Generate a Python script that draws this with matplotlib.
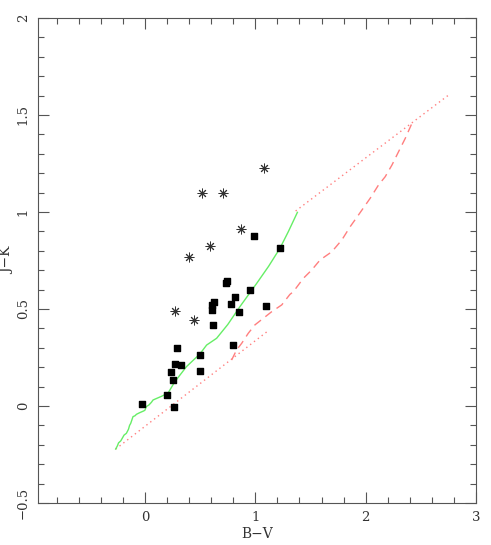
import matplotlib
matplotlib.use("Agg")
import matplotlib.pyplot as plt
from matplotlib.ticker import MultipleLocator, FuncFormatter

# etoiles (asterisques)
ast_bv = [1.074, 0.512, 0.703, 0.872, 0.590, 0.400, 0.272, 0.445]
ast_jk = [1.225, 1.096, 1.096, 0.911, 0.825, 0.770, 0.491, 0.443]

# carres noirs
sq_bv = [0.990, 1.223, 0.733, 0.745, 0.951, 0.812, 0.621, 0.603, 0.781, 0.603,
         1.099, 0.851, 0.612, 0.294, 0.794, 0.494, 0.272, 0.330, 0.233, 0.494,
         0.252, 0.203, -0.027, 0.263]
sq_jk = [0.875, 0.816, 0.636, 0.645, 0.598, 0.562, 0.538, 0.521, 0.527, 0.495,
         0.517, 0.483, 0.419, 0.299, 0.316, 0.265, 0.218, 0.211, 0.174, 0.180,
         0.134, 0.055, 0.010, -0.003]

# sequence principale (vert)
ms_bv = [-0.266, -0.25, -0.24, -0.22, -0.2, -0.19, -0.169, -0.15, -0.14, -0.13,
         -0.109, -0.09, -0.078, -0.05, -0.03, -0.01, 0.0, 0.012, 0.035, 0.058,
         0.073, 0.15, 0.209, 0.27, 0.376, 0.497, 0.558, 0.649, 0.75, 0.860,
         1.012, 1.12, 1.223, 1.30, 1.381]
ms_jk = [-0.222, -0.205, -0.19, -0.18, -0.16, -0.15, -0.141, -0.12, -0.1, -0.09,
         -0.055, -0.05, -0.043, -0.035, -0.03, -0.025, -0.021, -0.003, 0.005, 0.019,
         0.031, 0.05, 0.067, 0.125, 0.203, 0.268, 0.314, 0.349, 0.42, 0.512,
         0.632, 0.72, 0.813, 0.90, 0.998]

# branche des geantes (rouge tirets)
gb_bv = [0.785, 0.830, 0.876, 0.936, 0.996, 1.072, 1.148, 1.239, 1.313, 1.344,
         1.435, 1.511, 1.587, 1.693, 1.784, 1.859, 1.935, 2.041, 2.116, 2.177,
         2.238, 2.298, 2.359, 2.419]
gb_jk = [0.237, 0.289, 0.323, 0.375, 0.418, 0.452, 0.486, 0.521, 0.575, 0.589,
         0.658, 0.701, 0.753, 0.795, 0.856, 0.924, 0.985, 1.071, 1.139, 1.182,
         1.242, 1.311, 1.380, 1.457]

# vecteurs de rougissement (pointilles)
red1_bv = [-0.266, 1.117]
red1_jk = [-0.222, 0.388]
red2_bv = [1.365, 2.752]
red2_jk = [1.005, 1.603]

fig = plt.figure(figsize=(4.91, 5.45), dpi=100)
ax = fig.add_axes([0.0774, 0.0771, 0.8921, 0.8899])

dots = (0, (1, 2.5))
ax.plot(red1_bv, red1_jk, color='#ff7f7f', lw=1, linestyle=dots)
ax.plot(red2_bv, red2_jk, color='#ff7f7f', lw=1, linestyle=dots)
ax.plot(gb_bv, gb_jk, color='#ff7f7f', lw=1, linestyle=(0, (6, 4)))
ax.plot(ms_bv, ms_jk, color='#66ee66', lw=1)

ax.scatter(sq_bv, sq_jk, marker='s', s=22, c='black', zorder=3)
ax.scatter(ast_bv, ast_jk, marker=(8, 2, 0), s=42, c='#333333', linewidths=0.7, zorder=3)

def fmt(v, pos):
    return ('%g' % v).replace('-', '\u2212')

ax.set_xlim(-0.97, 3)
ax.set_ylim(-0.5, 2)
ax.xaxis.set_major_locator(MultipleLocator(1))
ax.xaxis.set_minor_locator(MultipleLocator(0.2))
ax.yaxis.set_major_locator(MultipleLocator(0.5))
ax.yaxis.set_minor_locator(MultipleLocator(0.1))
ax.xaxis.set_major_formatter(FuncFormatter(fmt))
ax.yaxis.set_major_formatter(FuncFormatter(fmt))
ax.tick_params(which='both', direction='in', top=True, right=True, color='#555555', width=0.8)
ax.tick_params(which='major', length=8, labelsize=9.5, labelcolor='#333333', pad=6)
ax.tick_params(which='minor', length=4)
for lab in ax.get_yticklabels():
    lab.set_rotation(90)
    lab.set_va('center')
for lab in ax.get_xticklabels() + ax.get_yticklabels():
    lab.set_family('DejaVu Serif')
for sp in ax.spines.values():
    sp.set_color('#555555')
    sp.set_linewidth(0.8)

ax.set_xlabel('B\u2212V', family='DejaVu Serif', fontsize=10, color='#333333', labelpad=2)
ax.set_ylabel('J\u2212K', family='DejaVu Serif', fontsize=10, color='#333333', labelpad=2)

fig.savefig('out.png', dpi=100)
